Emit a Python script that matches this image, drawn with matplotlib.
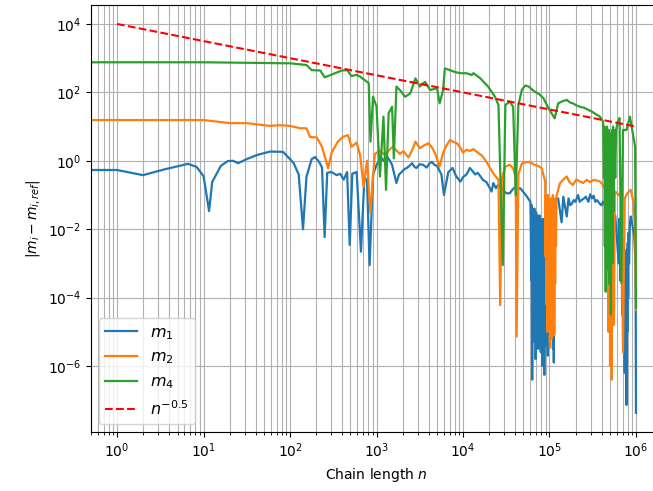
import numpy as np
import matplotlib
matplotlib.use("Agg")
import matplotlib.pyplot as plt

# Values, stored as base-10 exponents (log10 n, log10 |m_i - m_i,ref|)
m1_logn = [0.0, 0.30, 0.55, 0.82, 0.92, 1.00, 1.064, 1.10, 1.20, 1.28, 1.34, 1.40, 1.50, 1.62, 1.77, 1.92,
           2.04, 2.10, 2.15, 2.19, 2.25, 2.29, 2.34, 2.37, 2.40, 2.43, 2.48, 2.54, 2.58, 2.62, 2.66, 2.69,
           2.72, 2.77, 2.82, 2.86, 2.89, 2.92, 2.96, 3.00, 3.03, 3.06, 3.09, 3.12, 3.15, 3.18, 3.23, 3.26,
           3.29, 3.32, 3.35, 3.38, 3.41, 3.44, 3.46, 3.50, 3.54, 3.58, 3.61, 3.64, 3.67, 3.70, 3.75, 3.78,
           3.83, 3.88, 3.92, 3.97, 4.00, 4.04, 4.08, 4.11, 4.14, 4.17, 4.20, 4.23, 4.27, 4.30, 4.33, 4.35,
           4.38, 4.40, 4.45, 4.48, 4.50, 4.54, 4.57, 4.60, 4.63, 4.66, 4.70, 4.74, 4.78,
           4.790, 4.795, 4.800, 4.805, 4.810, 4.815, 4.820, 4.825, 4.830, 4.835, 4.840, 4.845, 4.850, 4.855,
           4.860, 4.865, 4.870, 4.875, 4.880, 4.885, 4.890, 4.895, 4.900, 4.905, 4.910, 4.915, 4.920, 4.925,
           4.930, 4.935, 4.940, 4.945, 4.950, 4.955, 4.960, 4.965, 4.970, 4.975, 4.980, 4.985, 4.990, 4.995,
           5.000, 5.005, 5.010, 5.015, 5.020, 5.025, 5.030, 5.035, 5.040, 5.045, 5.050, 5.055, 5.060, 5.065,
           5.070,
           5.10, 5.14, 5.16, 5.18, 5.20, 5.22, 5.24, 5.26, 5.28, 5.30, 5.33, 5.35, 5.37, 5.40, 5.42, 5.45,
           5.47, 5.49, 5.51, 5.53, 5.55, 5.58, 5.60, 5.62, 5.64, 5.68, 5.72, 5.76,
           5.800, 5.805, 5.810, 5.815, 5.820, 5.825, 5.830, 5.835, 5.840, 5.845, 5.850, 5.855, 5.860, 5.865,
           5.870, 5.875, 5.880, 5.885, 5.890, 5.895, 5.900, 5.905, 5.910, 5.915, 5.920, 5.930, 5.940,
           5.96, 5.98, 5.995, 6.0]
m1_logv = [-0.27, -0.42, -0.25, -0.09, -0.18, -0.45, -1.47, -0.62, -0.15, -0.01, 0.0, -0.07, 0.05, 0.17, 0.27, 0.26,
           -0.06, -0.40, -2.0, -0.47, 0.05, 0.11, -0.05, -0.2, -2.23, -0.35, -0.33, -0.42, -0.38, -0.55, -0.33, -2.46,
           -0.38, -0.33, -2.66, -0.48, -0.57, -3.05, -0.4, -0.12, 0.0, 0.08, -0.02, 0.12, 0.02, -0.12, -0.65, -0.40,
           -0.33, -0.25, -0.21, -0.15, -0.07, -0.18, -0.21, -0.10, -0.12, -0.20, -0.08, -0.03, -0.12, -0.15, -0.4, -1.0,
           -0.33, -0.21, -0.45, -0.61, -0.48, -0.40, -0.21, -0.30, -0.40, -0.35, -0.45, -0.56, -0.62, -0.75, -0.90, -0.65,
           -0.80, -0.72, -0.80, -0.90, -0.95, -0.95, -0.85, -0.77, -0.85, -0.80, -0.92, -1.05, -1.2,
           -3.5, -1.3, -6.4, -1.4, -4.2, -1.5, -5.3, -1.4, -3.8, -1.6, -5.8, -1.5, -4.6, -1.7,
           -3.9, -1.6, -5.5, -1.8, -4.8, -1.6, -4.1, -1.7, -5.6, -1.9, -4.4, -1.8, -6.0, -1.7,
           -5.0, -2.0, -6.26, -1.9, -4.7, -2.1, -5.4, -2.2, -3.9, -2.0, -5.7, -2.3, -4.5, -2.0,
           -5.2, -2.1, -3.8, -1.9, -5.0, -1.8, -4.3, -2.0, -5.5, -1.7, -5.9, -1.6, -3.2, -1.4,
           -1.2,
           -1.1, -1.8, -1.05, -1.35, -1.63, -1.1, -1.3, -1.25, -1.15, -1.2, -1.0, -1.2, -1.15, -1.1, -1.05, -1.2,
           -0.98, -1.1, -1.02, -1.2, -1.15, -1.25, -1.3, -1.2, -1.3, -1.45, -1.5, -1.6,
           -3.0, -1.7, -2.6, -1.8, -3.5, -1.9, -2.8, -2.1, -4.5, -2.3, -3.6, -2.5, -5.0, -2.6,
           -6.2, -2.8, -5.5, -3.0, -7.14, -2.6, -5.0, -2.4, -4.0, -2.1, -3.0, -1.8, -1.63,
           -1.9, -2.2, -3.0, -7.37]

m2_logn = [0.0, 0.5, 1.0, 1.31, 1.50, 1.77, 1.88, 2.0, 2.12, 2.19, 2.23, 2.31, 2.37, 2.44, 2.48, 2.55,
           2.61, 2.67, 2.71, 2.77, 2.81, 2.85, 2.89, 2.93, 2.98, 3.04, 3.08, 3.12, 3.16, 3.19, 3.23, 3.27,
           3.31, 3.37, 3.41, 3.45, 3.50, 3.55, 3.60, 3.64, 3.68, 3.73, 3.77, 3.81, 3.85, 3.89, 3.93, 3.97,
           4.00, 4.04, 4.08, 4.12, 4.17, 4.22, 4.27, 4.35, 4.41, 4.43, 4.45, 4.49,
           4.54, 4.58, 4.61, 4.62, 4.64, 4.68, 4.72, 4.76, 4.80, 4.83, 4.87, 4.91, 4.95,
           4.955, 4.960, 4.965, 4.970, 4.975, 4.980, 4.985, 4.990, 4.995, 5.000, 5.005, 5.010, 5.015, 5.020,
           5.025, 5.030, 5.035, 5.040, 5.045, 5.050, 5.055, 5.060, 5.065, 5.070, 5.075, 5.080,
           5.12, 5.16, 5.20, 5.23, 5.27, 5.31, 5.35, 5.39, 5.43, 5.47, 5.51, 5.55, 5.58, 5.61, 5.64, 5.66,
           5.665, 5.670, 5.675, 5.680, 5.685, 5.690, 5.695, 5.700, 5.705, 5.710, 5.715, 5.720, 5.725, 5.730,
           5.740, 5.745, 5.755, 5.760,
           5.80, 5.83, 5.85, 5.87, 5.90, 5.94, 5.97, 5.99, 6.0]
m2_logv = [1.19, 1.19, 1.19, 1.10, 1.10, 1.02, 1.04, 1.02, 0.95, 0.95, 0.70, 0.68, 0.41, -0.22, 0.23, 0.55,
           0.70, 0.75, 0.41, 0.53, 0.17, -0.76, 0.0, -1.53, 0.2, 0.29, 0.20, 0.24, 0.35, 0.41, 0.30, 0.2,
           0.28, 0.1, 0.30, 0.56, 0.37, 0.45, 0.51, 0.40, 0.2, -0.17, 0.24, 0.45, 0.61, 0.55, 0.51, 0.38,
           0.24, 0.32, 0.29, 0.34, 0.24, 0.15, -0.03, -0.37, -0.56, -4.22, -0.5, -0.17,
           -0.12, -0.22, -0.5, -5.14, -0.4, -0.08, -0.05, -0.03, -0.08, -0.12, -0.15, -0.22, -0.6,
           -2.8, -1.0, -4.2, -1.1, -5.0, -1.0, -3.8, -1.2, -4.9, -1.1, -5.47, -1.3, -4.4, -1.1,
           -5.2, -1.2, -3.9, -1.0, -4.8, -1.3, -5.1, -1.2, -3.6, -1.1, -2.5, -1.05,
           -0.66, -0.55, -0.46, -0.62, -0.71, -0.55, -0.6, -0.65, -0.56, -0.62, -0.56, -0.58, -0.6, -0.68, -0.8, -1.1,
           -1.5, -3.5, -1.2, -5.0, -1.3, -4.2, -1.4, -6.0, -1.6, -5.3, -1.5, -6.4, -1.8, -4.5,
           -2.0, -4.8, -1.0, -0.9,
           -1.0, -0.95, -5.6, -1.1, -0.95, -0.85, -1.2, -2.0, -4.36]

m4_logn = [0.0, 1.0, 2.0, 2.19, 2.25, 2.35, 2.40, 2.50, 2.60, 2.66, 2.71, 2.77, 2.81, 2.91, 2.93, 2.96,
           3.0, 3.04, 3.08, 3.11, 3.14, 3.18, 3.20, 3.23, 3.27, 3.33, 3.39, 3.45, 3.50, 3.56, 3.62, 3.70,
           3.73, 3.77, 3.79, 3.84, 3.89, 3.93, 3.98, 4.04, 4.10, 4.12, 4.20, 4.29, 4.37, 4.41, 4.46, 4.49,
           4.54, 4.58, 4.61, 4.64, 4.68, 4.72, 4.76, 4.80, 4.83, 4.88, 4.93, 4.99, 5.06, 5.10, 5.15, 5.20,
           5.24, 5.27, 5.31, 5.35, 5.40, 5.45, 5.50, 5.55, 5.58, 5.62,
           5.630, 5.635, 5.640, 5.645, 5.650, 5.655, 5.660, 5.665, 5.670, 5.675, 5.680, 5.685, 5.690, 5.695,
           5.700, 5.705, 5.710, 5.715, 5.720, 5.725, 5.730, 5.735, 5.740, 5.750, 5.760, 5.770,
           5.79, 5.81, 5.83, 5.85, 5.89, 5.93, 5.97, 5.99, 6.0]
m4_logv = [2.88, 2.88, 2.85, 2.80, 2.65, 2.64, 2.44, 2.54, 2.64, 2.65, 2.48, 2.51, 2.46, 2.27, 0.56, 1.87,
           1.58, -0.46, 1.29, -0.85, 1.39, 1.58, 0.07, 2.17, 2.07, 1.87, 1.97, 2.41, 2.17, 2.31, 2.07, 2.12,
           1.68, 2.07, 2.70, 2.66, 2.61, 2.58, 2.56, 2.56, 2.51, 2.56, 2.41, 2.17, 1.87, 1.63, -3.05, 1.63,
           1.73, 1.58, -1.0, 1.63, 2.07, 2.20, 2.17, 2.08, 2.02, 1.95, 1.83, 1.53, 1.24, 1.68, 1.74, 1.78,
           1.70, 1.68, 1.62, 1.58, 1.55, 1.49, 1.42, 1.34, 1.30, 1.14,
           -0.5, 1.0, -2.5, 0.9, -3.83, 0.8, -1.8, 1.0, -3.2, 0.7, -2.2, 0.9, -3.6, 0.6,
           -2.8, 0.8, -4.5, 0.7, -2.0, 0.9, -3.0, 1.0, -1.5, 0.9, -0.5, 0.9,
           1.14, 1.25, -3.57, 0.9, 0.9, 1.29, 0.7, 0.41, -4.3]

ref_n = [1, 1e6]
ref_v = [1e4, 10.0]

labels = ["$m_1$", "$m_2$", "$m_4$", "$n^{-0.5}$"]


def to_linear(logn, logv):
    # first sample is n = 0 (chain start), the rest are read as exponents
    n = np.concatenate([[0.0], 10.0 ** np.array(logn)])
    v = np.concatenate([[10.0 ** logv[0]], 10.0 ** np.array(logv)])
    return n, v


fig = plt.figure(figsize=(6.53, 4.91), dpi=100)
ax = fig.add_axes([0.1394, 0.1202, 0.8744, 0.8697])
ax.set_xscale("log")
ax.set_yscale("log")

for (ln, lv), lab in zip([(m1_logn, m1_logv), (m2_logn, m2_logv), (m4_logn, m4_logv)], labels[:3]):
    n, v = to_linear(ln, lv)
    ax.plot(n, v, label=lab, lw=1.6)
ax.plot(ref_n, ref_v, "r--", label=labels[3])

ax.set_xlim(0.5, 2e6)
ax.set_ylim(10 ** -7.93, 10 ** 4.556)
ax.grid(True, which="both", axis="x")
ax.grid(True, which="major", axis="y")
ax.set_xlabel("Chain length $n$")
ax.set_ylabel("$|m_i - m_{i,ref}|$")
ax.legend(loc="lower left", fontsize=11.5)

fig.savefig("out.png", dpi=100)
